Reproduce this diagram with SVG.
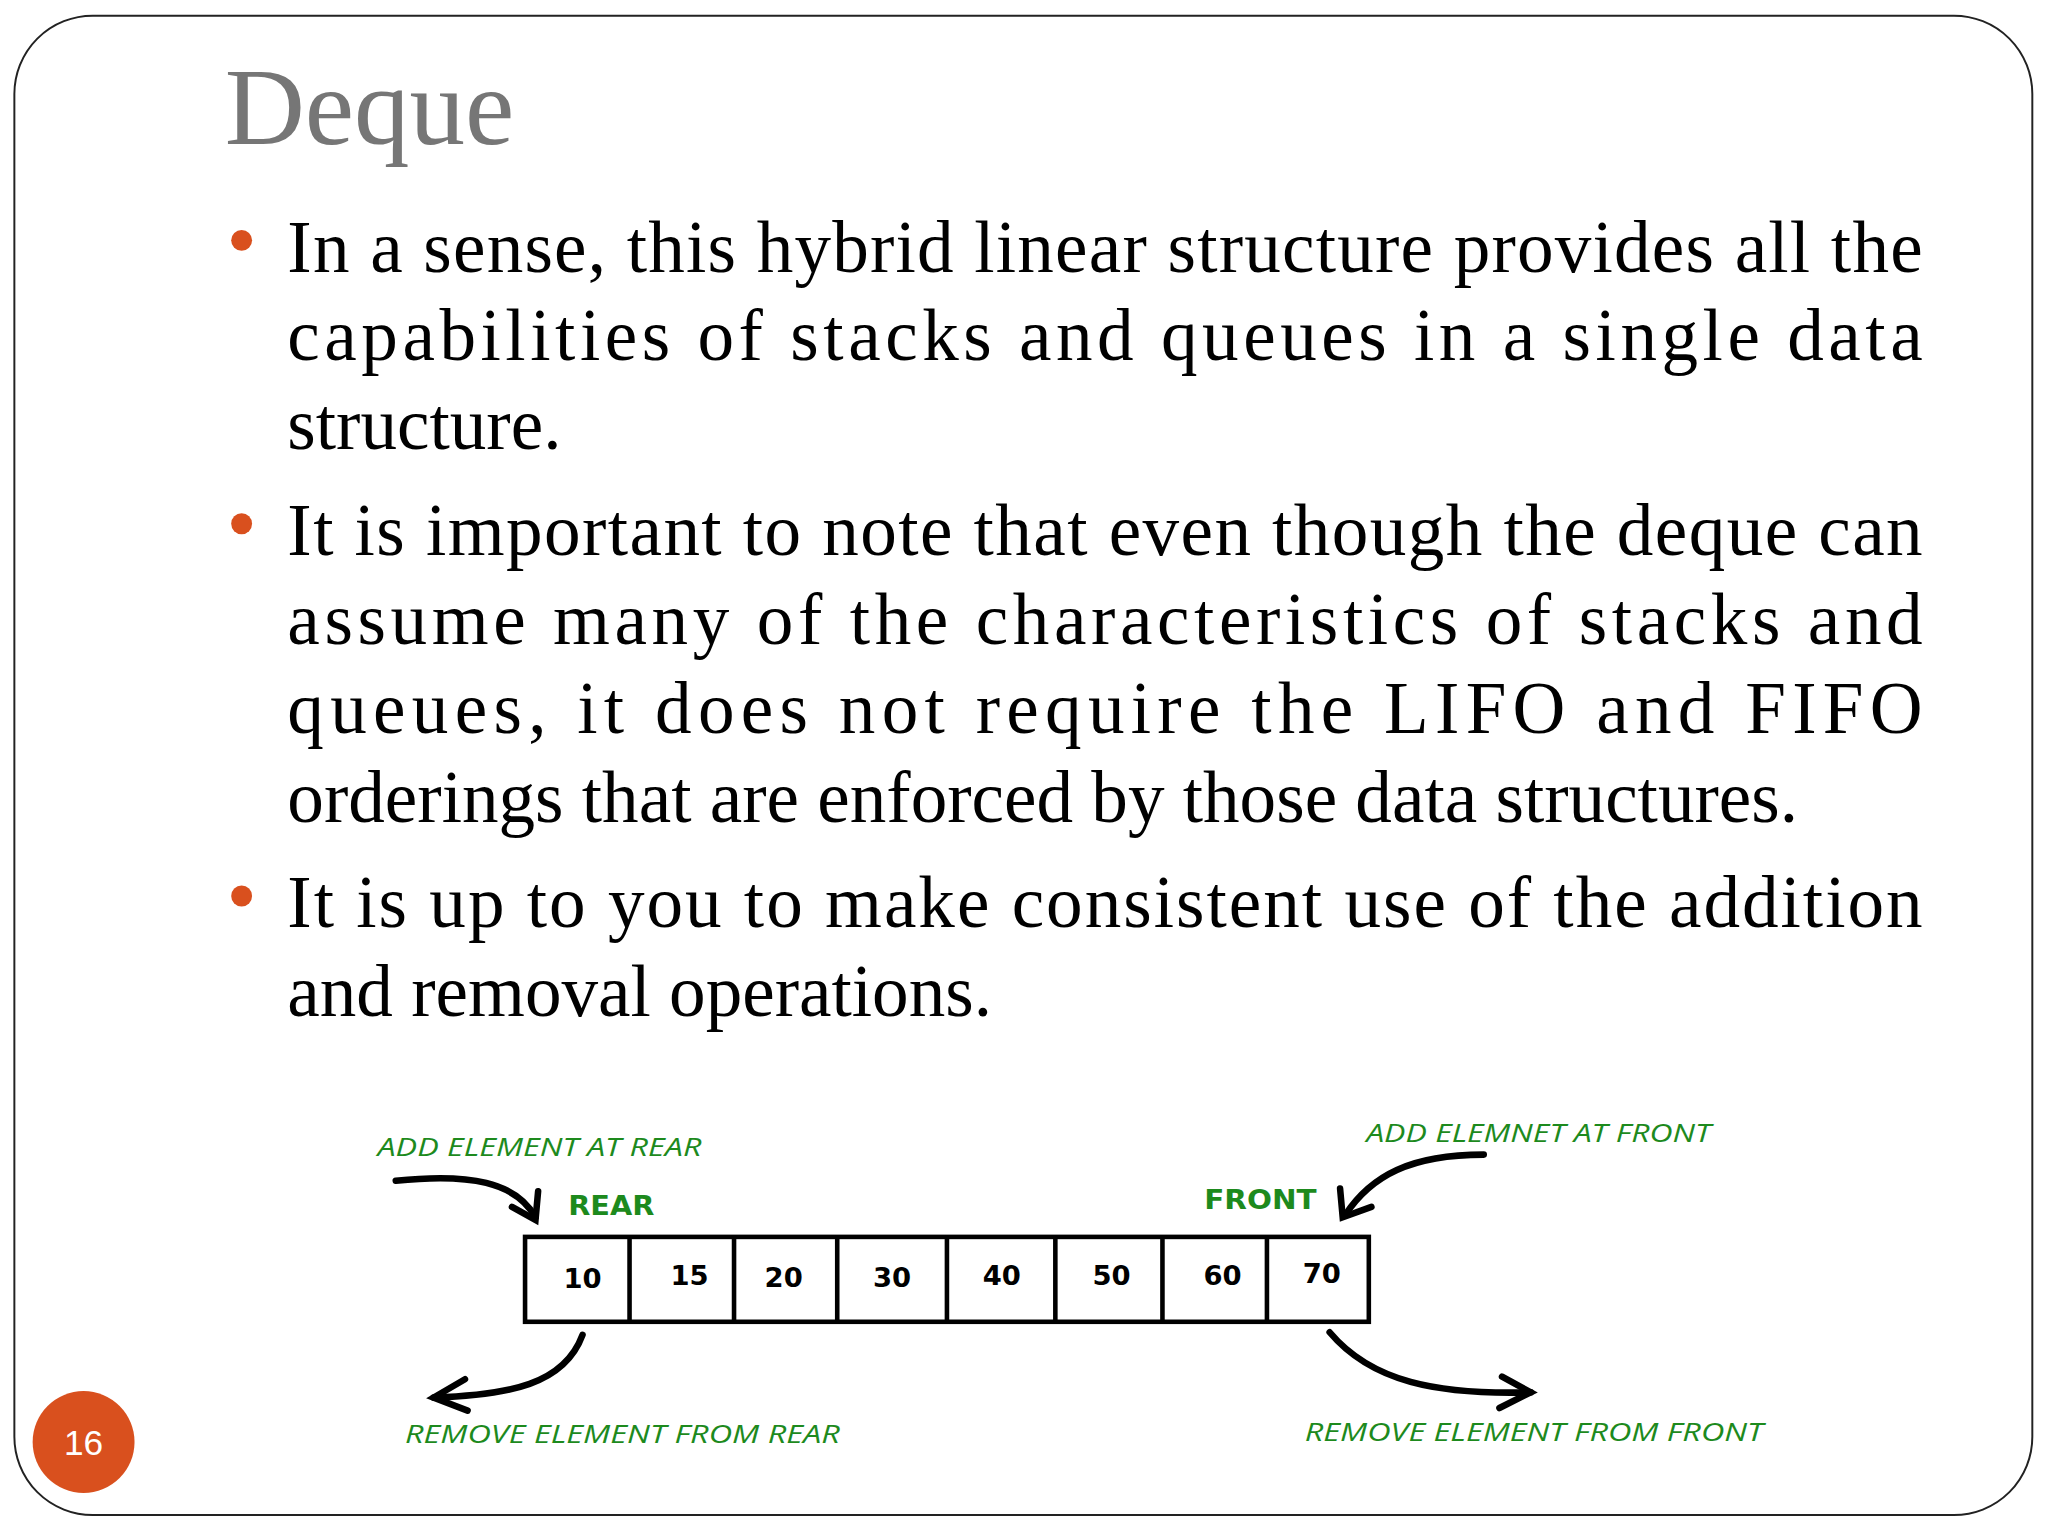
<svg xmlns="http://www.w3.org/2000/svg" width="2048" height="1536" viewBox="0 0 2048 1536">
<defs>
<style>
.b{font-family:"Liberation Serif",serif;font-size:56px;fill:#000}
.g{font-family:"Open Sans","DejaVu Sans",sans-serif;font-style:italic;font-size:19px;fill:#1d8a1d}
.gb{font-family:"DejaVu Sans",sans-serif;font-weight:bold;font-size:21px;fill:#1d8a1d}
.n{font-family:"DejaVu Sans",sans-serif;font-weight:bold;font-size:21px;fill:#000;text-anchor:middle}
.c{fill:none;stroke:#000;stroke-width:5;stroke-linecap:round}
</style>
</defs>
<rect width="2048" height="1536" fill="#fff"/>
<g transform="scale(1.30612)">
<rect x="11" y="12" width="1545" height="1148" rx="60" fill="#fff" stroke="#222" stroke-width="1.5"/>
<text x="172" y="110" font-family="Liberation Serif,serif" font-size="85" fill="#767676">Deque</text>
<g fill="#d9501e"><circle cx="185" cy="184" r="8"/><circle cx="185" cy="401" r="8"/><circle cx="185" cy="686" r="8"/></g>
<text class="b" x="220" y="208" textLength="1252" lengthAdjust="spacing">In a sense, this hybrid linear structure provides all the</text>
<text class="b" x="220" y="276" textLength="1252" lengthAdjust="spacing">capabilities of stacks and queues in a single data</text>
<text class="b" x="220" y="344">structure.</text>
<text class="b" x="220" y="425" textLength="1252" lengthAdjust="spacing">It is important to note that even though the deque can</text>
<text class="b" x="220" y="493" textLength="1252" lengthAdjust="spacing">assume many of the characteristics of stacks and</text>
<text class="b" x="220" y="561" textLength="1252" lengthAdjust="spacing">queues, it does not require the LIFO and FIFO</text>
<text class="b" x="220" y="629">orderings that are enforced by those data structures.</text>
<text class="b" x="220" y="710" textLength="1252" lengthAdjust="spacing">It is up to you to make consistent use of the addition</text>
<text class="b" x="220" y="778">and removal operations.</text>
<g id="deque">
<rect x="402" y="947" width="646" height="65" fill="#fff" stroke="#000" stroke-width="3.5"/>
<path d="M482 947V1012M562 947V1012M641 947V1012M725 947V1012M808 947V1012M890 947V1012M970 947V1012" stroke="#000" stroke-width="3.5"/>
<text class="n" x="446" y="986">10</text><text class="n" x="528" y="984">15</text><text class="n" x="600" y="985">20</text><text class="n" x="683" y="985">30</text><text class="n" x="767" y="984">40</text><text class="n" x="851" y="984">50</text><text class="n" x="936" y="984">60</text><text class="n" x="1012" y="982">70</text>
</g>
<g id="labels">
<text class="g" x="289" y="885" textLength="248" lengthAdjust="spacingAndGlyphs">ADD ELEMENT AT REAR</text>
<text class="gb" x="435" y="930" textLength="66" lengthAdjust="spacingAndGlyphs">REAR</text>
<text class="gb" x="922" y="926" textLength="86" lengthAdjust="spacingAndGlyphs">FRONT</text>
<text class="g" x="1046" y="874" textLength="264" lengthAdjust="spacingAndGlyphs">ADD ELEMNET AT FRONT</text>
<text class="g" x="310" y="1105" textLength="333" lengthAdjust="spacingAndGlyphs">REMOVE ELEMENT FROM REAR</text>
<text class="g" x="999" y="1103" textLength="351" lengthAdjust="spacingAndGlyphs">REMOVE ELEMENT FROM FRONT</text>
</g>
<g id="connectors">
<path class="c" d="M303 904C360 898 395 905 410 932"/><path class="c" d="M392 924L410 934L412 912"/>
<path class="c" d="M1136 884C1080 884 1050 900 1030 930"/><path class="c" d="M1026 910L1028 932L1050 924"/>
<path class="c" d="M446 1022C432 1060 390 1068 332 1070"/><path class="c" d="M356 1056L332 1070L358 1080"/>
<path class="c" d="M1018 1020C1050 1058 1100 1068 1172 1066"/><path class="c" d="M1150 1054L1172 1066L1148 1078"/>
</g>
<g id="page"><circle cx="64" cy="1104" r="39" fill="#d9501e"/><text x="64" y="1114" text-anchor="middle" font-family="Liberation Sans,sans-serif" font-size="27" fill="#fff">16</text></g>
</g>
</svg>
